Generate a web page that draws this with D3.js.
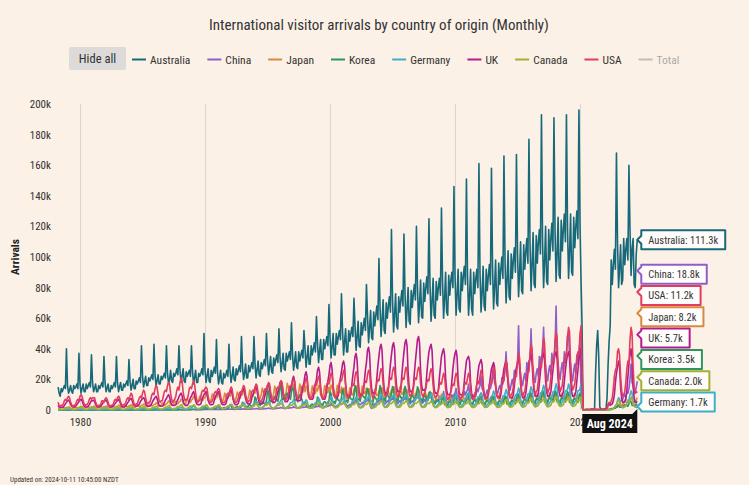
<!DOCTYPE html>
<html><head><meta charset="utf-8">
<script src="https://cdn.jsdelivr.net/npm/d3@7"></script>
<style>
body{margin:0;background:#fcf1e6;}
svg{display:block;}
</style></head><body><svg id="c" width="749" height="485"></svg>
<script>
// ---------- DATA (thousands of arrivals, monthly, from Apr 1978 to Aug 2024; one row per year) ----------
const startYear = 1978, startMonthIndex = 3; // April 1978
const seriesNames = ["Australia","China","Japan","Korea","Germany","UK","Canada","USA"];
const legendNames = ["Australia","China","Japan","Korea","Germany","UK","Canada","USA","Total"];
const yTicks = [0,20,40,60,80,100,120,140,160,180,200];
const xTickYears = [1980,1990,2000,2010,2020];
const title = "International visitor arrivals by country of origin (Monthly)";
const footnote = "Updated on: 2024-10-11 10:45:00 NZDT";

const australia = [
[15,11,9,14,12,14,16,14,40],
[16,11,13,16,12,11,16,14,15,17,14,37],
[17,11,14,17,12,12,17,14,16,18,15,36],
[18,12,14,17,12,12,16,14,16,18,15,35],
[18,12,14,17,12,12,16,14,16,18,15,35],
[18,12,15,18,13,13,17,15,17,19,16,33],
[19,13,16,20,14,14,19,17,19,21,18,42],
[22,15,18,22,16,16,21,19,21,23,20,43],
[23,16,19,23,17,17,22,20,22,24,21,42],
[24,17,20,26,19,18,24,22,24,27,23,42],
[26,18,22,27,19,18,25,22,24,26,22,42],
[25,17,21,26,18,18,24,22,24,27,23,50],
[26,18,22,27,19,18,26,22,25,28,24,46],
[25,17,21,26,18,17,24,21,23,26,22,43],
[26,18,22,28,20,19,27,23,26,29,25,48],
[28,20,24,30,21,21,29,25,28,31,27,48],
[30,21,26,32,23,22,31,27,30,33,29,50],
[33,23,28,35,25,24,34,29,33,36,31,53],
[35,25,30,37,27,26,37,32,35,38,33,57],
[36,26,31,38,28,27,38,32,36,39,34,52],
[40,28,34,42,30,30,42,36,40,44,38,61],
[44,31,38,46,33,33,46,40,44,48,42,69],
[48,34,41,50,36,36,50,43,48,52,46,76],
[52,36,44,53,38,38,52,45,50,54,48,73],
[55,39,47,58,42,41,57,49,55,60,52,82],
[62,44,53,65,47,46,64,55,62,68,59,99],
[68,48,58,72,52,50,70,60,68,74,64,118],
[72,51,62,76,55,53,74,64,72,78,68,115],
[76,54,65,80,58,56,78,67,76,82,72,120],
[80,57,69,85,61,60,83,71,80,87,76,125],
[82,58,70,86,62,60,84,72,80,86,75,132],
[85,60,72,90,64,62,88,75,85,90,80,146],
[88,62,74,92,66,64,90,78,88,94,82,151],
[88,62,74,92,66,62,90,76,86,92,80,161],
[90,64,76,94,68,65,92,78,88,95,82,158],
[94,66,80,98,70,68,96,82,92,100,86,166],
[98,70,84,104,74,72,102,86,98,106,90,167],
[104,74,88,110,78,76,108,92,104,112,96,177],
[110,78,94,116,82,80,114,96,110,118,102,193],
[112,80,96,120,84,82,118,98,112,122,104,191],
[118,84,100,126,88,86,124,104,118,128,110,193],
[120,86,102,128,90,88,126,106,120,130,112,196],
[122,84,55,0.4,0.3,0.3,0.5,0.5,0.3,0.4,0.5,0.6],
[0.6,0.5,0.6,25,42,52,35,2,0.5,0.5,0.5,0.6],
[0.8,1,8,30,45,55,98,82,95,105,92,168],
[110,80,92,108,82,85,112,95,105,112,98,160],
[118,88,105,112,82,80,102,111.3]
];

const china = [
[0.1,0.1,0.1,0.1,0.1,0.1,0.1,0.1,0.1],
[0.1,0.1,0.1,0.1,0.1,0.1,0.1,0.1,0.1,0.1,0.1,0.1],
[0.1,0.1,0.1,0.1,0.1,0.1,0.1,0.1,0.1,0.1,0.1,0.1],
[0.1,0.1,0.1,0.1,0.1,0.1,0.1,0.1,0.1,0.1,0.1,0.1],
[0.1,0.1,0.1,0.1,0.1,0.1,0.1,0.1,0.1,0.1,0.1,0.1],
[0.1,0.1,0.1,0.1,0.1,0.1,0.1,0.1,0.1,0.1,0.1,0.1],
[0.1,0.2,0.1,0.1,0.1,0.1,0.1,0.1,0.1,0.2,0.1,0.1],
[0.1,0.2,0.1,0.1,0.1,0.1,0.1,0.1,0.1,0.2,0.1,0.1],
[0.2,0.2,0.2,0.2,0.1,0.1,0.2,0.2,0.1,0.2,0.2,0.2],
[0.2,0.3,0.2,0.2,0.2,0.2,0.2,0.2,0.2,0.3,0.2,0.2],
[0.2,0.3,0.2,0.2,0.2,0.2,0.2,0.2,0.2,0.3,0.2,0.3],
[0.3,0.3,0.3,0.2,0.2,0.2,0.2,0.3,0.2,0.3,0.3,0.3],
[0.4,0.5,0.4,0.4,0.3,0.3,0.4,0.4,0.4,0.5,0.4,0.4],
[0.4,0.5,0.4,0.4,0.4,0.3,0.4,0.4,0.4,0.5,0.5,0.5],
[0.5,0.6,0.5,0.5,0.4,0.4,0.5,0.5,0.5,0.6,0.5,0.6],
[0.6,0.8,0.6,0.6,0.5,0.5,0.6,0.6,0.6,0.8,0.7,0.7],
[0.8,1,0.8,0.8,0.6,0.6,0.7,0.8,0.7,1,0.9,0.9],
[1,1.3,1,1,0.8,0.7,0.9,1,0.9,1.3,1.1,1.2],
[1.3,1.7,1.3,1.3,1,0.9,1.1,1.3,1.1,1.6,1.4,1.5],
[1.6,2.2,1.6,1.6,1.2,1.1,1.4,1.6,1.4,2,1.7,1.8],
[1.8,2.4,1.8,1.8,1.3,1.2,1.5,1.7,1.5,2.2,1.9,2.2],
[2.3,3,2.2,2.2,1.7,1.5,1.9,2.2,1.9,2.8,2.4,2.8],
[3,4.5,3,3,2.5,2,2.5,3,2.5,4,3.5,4],
[4,5.5,4,4,3,2.5,3,3.5,3,5,4,5],
[5,7,5,5,4,3.5,4,5,4,6,5,6],
[6,8,5,2,1,1.5,3,4,3.5,6,5,6],
[6,9,6,6,4.5,4,5,6,5,8,6,7],
[7,9,6,6,4.5,4,5,6,5,8,6,7],
[7,10,6,6,5,4,5,6,5,8,7,8],
[8,10,7,7,5,4.5,5.5,7,5.5,9,7,8],
[8,11,7,7,5,4.5,5.5,7,5.5,9,7,9],
[9,12,8,8,5.5,5,6,8,6,10,8,10],
[11,14,10,9,7,6,8,10,8,12,10,12],
[13,17,11,10,8,7,9,11,9,14,12,14],
[16,22,14,13,10,9,11,13,11,17,14,17],
[20,30,18,16,12,11,14,16,13,21,17,21],
[26,38,22,20,15,13,17,20,16,26,21,27],
[30,55,28,24,18,16,21,24,19,31,26,32],
[33,53,31,27,20,18,24,27,22,35,29,35],
[36,54,33,29,22,19,26,29,23,37,30,36],
[40,68,36,31,23,20,27,31,24,38,31,38],
[48,50,35,30,22,19,26,30,23,36,30,38],
[45,10,2,0.1,0.1,0.1,0.1,0.1,0.1,0.1,0.1,0.1],
[0.1,0.1,0.1,0.1,0.1,0.1,0.1,0.1,0.1,0.1,0.1,0.1],
[0.1,0.1,0.2,0.4,0.5,0.6,0.8,1,1,1.5,1.5,2],
[2,3,4,6,6,7,9,10,8,12,11,14],
[20,30,18,16,12,11,15,18.8]
];

const japan = [
[1.2,1,1,1.4,1.9,1.6,1.3,1.3,1.7],
[1.5,2,2,1.2,1.1,1.1,1.4,2,1.7,1.4,1.4,1.8],
[1.8,2.3,2.3,1.4,1.3,1.3,1.6,2.3,2,1.6,1.6,2.2],
[1.9,2.5,2.5,1.5,1.4,1.4,1.7,2.5,2.1,1.7,1.7,2.3],
[2,2.6,2.6,1.6,1.4,1.4,1.8,2.6,2.2,1.8,1.8,2.4],
[2.3,3,3,1.8,1.6,1.6,2,3,2.5,2,2,2.8],
[2.6,3.4,3.4,2,1.8,1.8,2.3,3.4,2.9,2.3,2.3,3.1],
[3,3.9,3.9,2.4,2.1,2.1,2.7,3.9,3.3,2.7,2.7,3.6],
[3.6,4.7,4.7,2.9,2.5,2.5,3.2,4.7,4,3.2,3.2,4.3],
[4.5,5.9,5.9,3.6,3.2,3.2,4,5.9,5,4,4,5.4],
[5.5,7.2,7.2,4.4,3.9,3.9,5,7.2,6,5,5,6.6],
[7,9,9,5.6,4.9,4.9,6.3,9,7.7,6.3,6.3,8.4],
[8,10.4,10.4,6.4,5.6,5.6,7.2,10.4,8.8,7.2,7.2,9.6],
[8.5,11,11,6.8,6,6,7.6,11,9.4,7.6,7.6,10.2],
[9,11.7,11.7,7.2,6.3,6.3,8.1,11.7,9.9,8.1,8.1,10.8],
[10,13,13,8,7,7,9,13,11,9,9,12],
[11,14.3,14.3,8.8,7.7,7.7,9.9,14.3,12.1,9.9,9.9,13.2],
[12,15.6,15.6,9.6,8.4,8.4,10.8,15.6,13.2,10.8,10.8,14.4],
[13.5,17.5,17.5,10.8,9.5,9.5,12,17.5,14.8,12,12,16],
[13,17,17,10.4,9.1,9.1,11.7,17,14.3,11.7,11.7,15.6],
[12,15.6,15.6,9.6,8.4,8.4,10.8,15.6,13.2,10.8,10.8,14.4],
[12.5,16,16,10,8.8,8.8,11.3,16,13.8,11.3,11.3,15],
[12.5,16.2,15.8,10,8.7,8.9,11.2,16.1,13.7,11.4,11.2,15],
[11,14.3,14.3,8.8,7.7,7.7,9.9,14.3,12.1,9.9,9.9,13.2],
[12,15.6,15.6,9.6,8.4,8.4,10.8,15.6,13.2,10.8,10.8,14.4],
[10.5,13.7,13.7,6,5.5,6.5,9.5,13.7,11.5,9.5,9.5,12.6],
[11,14.3,14.3,8.8,7.7,7.7,9.9,14.3,12.1,9.9,9.9,13.2],
[11.5,15,15,9.2,8,8,10.4,15,12.7,10.4,10.4,13.8],
[10,13,13,8,7,7,9,13,11,9,9,12],
[9.5,12.4,12.4,7.6,6.7,6.7,8.6,12.4,10.5,8.6,8.6,11.4],
[8.5,11,11,6.8,6,6,7.6,11,9.4,7.6,7.6,10.2],
[7,9,9,5.6,4.9,4.9,6.3,9,7.7,6.3,6.3,8.4],
[7.5,9.8,9.8,6,5.3,5.3,6.8,9.8,8.3,6.8,6.8,9],
[6.5,8.5,7,4.5,4,4,5.9,8.5,7.2,5.9,5.9,7.8],
[6.5,8.5,8.5,5.2,4.6,4.6,5.9,8.5,7.2,5.9,5.9,7.8],
[6.4,8.4,8.6,5.1,4.6,4.7,5.8,8.6,7.1,6,5.8,7.9],
[6.6,8.6,8.4,5.3,4.5,4.6,6,8.4,7.3,5.9,6,7.7],
[7,9.1,9.1,5.6,4.9,4.9,6.3,9.1,7.7,6.3,6.3,8.4],
[8,10.4,10.4,6.4,5.6,5.6,7.2,10.4,8.8,7.2,7.2,9.6],
[8.5,11,11,6.8,6,6,7.6,11,9.4,7.6,7.6,10.2],
[8.6,11.2,10.9,6.9,6,6.1,7.5,11.1,9.3,7.7,7.5,10.3],
[8.4,10.9,11.1,6.7,5.9,6,7.7,10.9,9.5,7.5,7.7,10.1],
[9,10,4,0.1,0.1,0.1,0.1,0.1,0.1,0.1,0.1,0.1],
[0.1,0.1,0.1,0.1,0.1,0.1,0.1,0.1,0.1,0.1,0.1,0.1],
[0.1,0.1,0.1,0.2,0.3,0.4,0.6,0.8,1,1.5,1.8,2.2],
[2.5,3.5,4,3,3,3.5,4.5,6.5,5.5,4.5,4.5,6],
[6,8,8.5,5.5,5,5,6.5,8.2]
];

const korea = [
[0.1,0.1,0.1,0.1,0.1,0.1,0.1,0.1,0.1],
[0.1,0.1,0.1,0.1,0.1,0.1,0.1,0.1,0.1,0.1,0.1,0.1],
[0.1,0.1,0.1,0.1,0.1,0.1,0.1,0.1,0.1,0.1,0.1,0.1],
[0.1,0.1,0.1,0.1,0.1,0.1,0.1,0.1,0.1,0.1,0.1,0.1],
[0.1,0.1,0.1,0.1,0.1,0.1,0.1,0.1,0.1,0.1,0.1,0.1],
[0.1,0.1,0.1,0.1,0.1,0.1,0.1,0.1,0.1,0.1,0.1,0.1],
[0.1,0.1,0.1,0.1,0.1,0.1,0.1,0.1,0.1,0.1,0.1,0.1],
[0.1,0.1,0.1,0.1,0.1,0.1,0.1,0.1,0.1,0.1,0.1,0.1],
[0.2,0.2,0.1,0.1,0.1,0.1,0.2,0.2,0.1,0.1,0.1,0.2],
[0.2,0.2,0.1,0.1,0.1,0.1,0.2,0.2,0.1,0.1,0.1,0.2],
[0.3,0.3,0.2,0.2,0.2,0.1,0.2,0.3,0.2,0.2,0.2,0.3],
[0.5,0.5,0.3,0.3,0.3,0.3,0.4,0.5,0.4,0.4,0.4,0.6],
[1.7,1.5,0.7,0.7,0.8,0.6,1,1.1,0.9,0.9,0.7,1.2],
[2.5,2.2,1,1,1.2,0.9,1.5,1.6,1.3,1.3,1,1.8],
[3.4,3,1.4,1.4,1.6,1.2,2,2.2,1.8,1.8,1.4,2.4],
[5,4.5,2.1,2.1,2.4,1.8,3,3.3,2.7,2.7,2.1,3.6],
[8.5,7.5,3.5,3.5,4,3,5,5.5,4.5,4.5,3.5,6],
[13,12,5.6,5.6,6.4,4.8,8,8.8,7.2,7.2,5.6,9.6],
[17,15,7,7,8,6,10,11,9,9,7,12],
[15,13.5,6.3,6.3,7.2,5.4,9,9.9,8.1,7,4,4],
[5,4.5,2.2,2.2,2.6,2,3.5,3.9,3.2,3.2,2.5,4.2],
[8.5,7.5,3.5,3.5,4,3,5,5.5,4.5,4.5,3.5,6],
[12,10.5,5,5,5.6,4.2,7,7.7,6.3,6.3,4.9,8.4],
[13.6,12,5.6,5.6,6.4,4.8,8,8.8,7.2,7.2,5.6,9.6],
[16,14,6.7,6.7,7.6,5.7,9.5,10.5,8.6,8.6,6.7,11.4],
[14,12,5.6,3,3.5,3.5,8,8.8,7.2,7.2,5.6,9.6],
[16,14,6.7,6.7,7.6,5.7,9.5,10.5,8.6,8.6,6.7,11.4],
[15.3,13.5,6.3,6.3,7.2,5.4,9,9.9,8.1,8.1,6.3,10.8],
[15.5,13.2,6.4,6.2,7.3,5.3,9.2,9.8,8.2,8,6.4,10.7],
[15.1,13.6,6.2,6.4,7.1,5.5,8.9,10,8,8.2,6.2,10.9],
[12,10.5,5,5,5.2,4,6,6.5,5.5,5,3.5,5.5],
[8.5,7.5,3.5,3.5,4,3,5,5.5,4.5,4.5,3.5,6],
[10,9,4.2,4.2,4.8,3.6,6,6.6,5.4,5.4,4.2,7.2],
[10.5,9,4,4.2,4.6,3.5,6.2,6.8,5.5,5.2,4,7],
[10,8.8,4.1,4,4.6,3.5,5.8,6.4,5.2,5.2,4,6.8],
[9.4,8.3,3.9,3.9,4.4,3.3,5.5,6,5,5,3.9,6.6],
[9.2,8.4,3.8,4,4.5,3.4,5.7,6.2,5.1,5.2,4,6.9],
[11,9.8,4.6,4.6,5.2,3.9,6.5,7.2,5.9,5.9,4.6,7.8],
[12,10.5,4.9,4.9,5.6,4.2,7,7.7,6.3,6.3,4.9,8.4],
[12.8,11.3,5.3,5.3,6,4.5,7.5,8.3,6.8,6.8,5.3,9],
[12.6,11.5,5.2,5.4,5.9,4.6,7.4,8.4,6.7,6.9,5.2,9.1],
[12,10.5,4.9,4.9,5.6,4.2,7,7.7,6.3,6.3,4.9,8.4],
[11,7,1.5,0.1,0.1,0.1,0.1,0.1,0.1,0.1,0.1,0.1],
[0.1,0.1,0.1,0.1,0.1,0.1,0.1,0.1,0.1,0.1,0.1,0.1],
[0.1,0.1,0.1,0.2,0.3,0.4,0.6,0.8,1,1.2,1.2,1.8],
[3,3,1.8,1.8,2.2,1.8,3,3.5,3,3,2.4,4],
[6,5.5,3,3,3.2,2.5,3.8,3.5]
];

const germany = [
[0.3,0.2,0.1,0.1,0.2,0.2,0.3,0.4,0.4],
[0.5,0.6,0.5,0.3,0.2,0.1,0.1,0.2,0.2,0.3,0.4,0.4],
[0.6,0.8,0.7,0.4,0.2,0.1,0.2,0.2,0.3,0.4,0.6,0.6],
[0.6,0.7,0.7,0.4,0.2,0.1,0.2,0.2,0.3,0.4,0.5,0.6],
[0.6,0.8,0.7,0.4,0.2,0.2,0.2,0.2,0.3,0.4,0.6,0.6],
[0.8,1,0.9,0.5,0.3,0.2,0.2,0.3,0.4,0.5,0.7,0.7],
[0.8,1,0.9,0.5,0.3,0.2,0.2,0.3,0.4,0.5,0.7,0.8],
[0.9,1.1,1,0.5,0.3,0.2,0.2,0.4,0.4,0.6,0.8,0.8],
[0.9,1.2,1,0.6,0.3,0.2,0.3,0.4,0.4,0.6,0.8,0.9],
[1.2,1.5,1.4,0.7,0.4,0.3,0.3,0.5,0.6,0.8,1.1,1.1],
[1.5,1.9,1.7,0.9,0.5,0.4,0.4,0.6,0.7,1,1.4,1.4],
[2,2.5,2.2,1.2,0.7,0.5,0.5,0.8,0.9,1.3,1.8,1.8],
[2.4,3,2.7,1.4,0.8,0.6,0.6,1,1.1,1.6,2.2,2.2],
[2.4,3.1,2.6,1.4,0.8,0.6,0.7,1,1.1,1.6,2.3,2.2],
[3,3.8,3.4,1.8,1,0.7,0.8,1.2,1.4,2,2.8,2.8],
[3.8,4.8,4.3,2.3,1.3,0.9,1,1.5,1.8,2.5,3.5,3.5],
[4.5,5.7,5.1,2.7,1.5,1.1,1.2,1.8,2.1,3,4.2,4.2],
[4.6,5.6,5.2,2.7,1.5,1.1,1.2,1.8,2.1,3.1,4.2,4.3],
[5.3,6.7,6,3.2,1.8,1.2,1.4,2.1,2.5,3.5,4.9,4.9],
[5.2,6.8,5.9,3.2,1.8,1.3,1.4,2.1,2.4,3.5,5,4.9],
[5.3,6.6,6,3.1,1.8,1.2,1.4,2.2,2.5,3.4,4.8,4.9],
[6,7.6,6.8,3.6,2,1.4,1.6,2.4,2.8,4,5.6,5.6],
[6.8,8.6,7.7,4,2.3,1.6,1.8,2.7,3.2,4.5,6.3,6.3],
[6.7,8.7,7.6,4.1,2.3,1.6,1.8,2.7,3.1,4.6,6.3,6.2],
[6.8,8.5,7.8,4,2.2,1.6,1.8,2.8,3.2,4.5,6.2,6.4],
[7.5,9.5,8.5,4.5,2.5,1.8,2,3,3.5,5,7,7],
[8.3,10.5,9.4,5,2.8,1.9,2.2,3.3,3.9,5.5,7.7,7.7],
[8.2,10.6,9.3,5,2.8,2,2.2,3.3,3.8,5.6,7.7,7.6],
[8.4,10.4,9.5,4.9,2.7,1.9,2.1,3.4,3.9,5.4,7.8,7.7],
[8.3,10.5,9.4,5,2.8,1.9,2.2,3.3,3.9,5.5,7.7,7.7],
[8.2,10.7,9.3,5.1,2.8,2,2.2,3.2,3.8,5.5,7.6,7.8],
[8.3,10.4,9.4,5,2.7,1.9,2.2,3.3,3.9,5.5,7.7,7.6],
[8.3,10.5,9.5,5,2.8,1.9,2.2,3.3,3.9,5.5,7.7,7.7],
[9,11.4,10.2,5.4,3,2.1,2.4,3.6,4.2,6,8.4,8.4],
[9.1,11.3,10.3,5.4,3,2.1,2.4,3.6,4.2,6.1,8.4,8.5],
[9.8,12.4,11,5.9,3.3,2.3,2.6,3.9,4.6,6.5,9.1,9.1],
[10.5,13.3,11.9,6.3,3.5,2.5,2.8,4.2,4.9,7,9.8,9.8],
[11.3,14.3,12.8,6.8,3.8,2.6,3,4.5,5.3,7.5,10.5,10.5],
[12,15.2,13.6,7.2,4,2.8,3.2,4.8,5.6,8,11.2,11.2],
[12.8,16.2,14.5,7.7,4.3,3,3.4,5.1,6,8.5,11.9,11.9],
[13.5,17.1,15.3,8.1,4.5,3.2,3.6,5.4,6.3,9,12.6,12.6],
[13.4,17,15.4,8.1,4.5,3.2,3.6,5.4,6.3,9,12.5,12.7],
[14,17,7,0.1,0.1,0.1,0.1,0.1,0.1,0.1,0.1,0.1],
[0.1,0.1,0.1,0.1,0.1,0.1,0.1,0.1,0.1,0.1,0.1,0.1],
[0.1,0.1,0.1,0.1,0.2,0.2,0.3,0.5,0.8,1.5,3,3.5],
[6,8,7.5,4,2,1.4,1.6,2.4,2.8,4.5,6.5,6.5],
[10,12.5,11,5.5,3,2,1.8,1.7]
];

const uk = [
[3,2,1.8,1.8,1.8,2,3,4,5],
[6,6.5,5.5,3.5,2.5,2,2,2,2.5,3.5,4.5,5.5],
[6.5,7,6,4,2.5,2,2,2,2.5,3.5,5,6],
[6,6.5,5.5,3.5,2.5,2,2,2,2.5,3.5,4.5,5.5],
[6,6.5,5.5,3.5,2.5,2,2,2,2.5,3.5,4.5,5.5],
[6,7,6,4,2.5,2,2,2,2.5,4,5,6],
[7,7.5,6.5,4,3,2.5,2.5,2.5,3,4,5.5,6.5],
[7.5,8,7,4.5,3,2.5,2.5,2.5,3,4.5,6,7],
[8,9,7.5,5,3,2.5,2.5,2.5,3,5,6.5,7.5],
[9,10,8.5,5.5,3.5,3,3,3,3.5,5.5,7,8.5],
[10,11,9.5,6,4,3,3,3,4,6,8,9],
[11,12,10,6.5,4,3.5,3.5,3.5,4,6.5,8.5,10],
[11,12,10.5,6.5,4.5,3.5,3.5,3.5,4,6.5,9,10],
[11,12,10,6.5,4,3.5,3.5,3.5,4,6.5,8.5,10],
[12,13,11,7,4.5,3.5,3.5,3.5,4.5,7,9.5,11],
[13,14,12,7.5,5,4,4,4,5,8,10,12],
[14,15,13,8,5,4,4,4,5,8,11,13],
[16,17,15,9,6,5,5,5,6,9,12,14],
[18,19,17,10,7,5.5,5.5,5.5,7,10,14,16],
[20,22,19,11,7,6,6,6,7,11,15,18],
[23,25,22,13,8,7,7,7,8,13,17,20],
[26,28,25,15,9,7,7,7,9,14,19,23],
[29,31,27,16,10,8,8,8,10,16,21,25],
[30,32,29,17,11,9,9,9,11,17,23,28],
[35,37,33,20,12,10,10,10,12,19,26,31],
[39,41,37,22,14,11,11,11,13,21,29,35],
[41,43,39,23,14,11,11,11,14,22,30,36],
[42,44,40,24,15,12,12,12,14,23,31,38],
[44,46,42,25,15,12,12,12,15,24,32,39],
[46,48,44,26,16,13,13,13,15,24,32,38],
[41,43,39,23,14,11,11,11,13,21,28,35],
[38,40,36,21,13,10,10,10,12,19,27,33],
[37,39,35,20,12,10,10,10,12,19,26,32],
[34,35,32,18,11,9,9,9,11,17,24,29],
[31,33,30,17,10,8,8,8,10,16,22,27],
[29,31,28,16,10,8,8,8,10,16,22,27],
[30,32,29,17,10,8,8,8,10,16,23,28],
[31,33,30,17,11,8,8,9,11,17,24,29],
[34,36,32,19,12,9,9,9,11,18,25,31],
[35,37,33,19,12,9,9,10,12,19,26,32],
[36,38,34,20,12,9,9,10,12,19,26,32],
[36,38,34,20,12,9,9,10,12,19,26,33],
[38,40,20,0.2,0.2,0.2,0.2,0.2,0.2,0.2,0.2,0.3],
[0.3,0.3,0.3,0.3,0.3,0.3,0.3,0.3,0.3,0.3,0.3,0.3],
[0.3,0.4,0.8,3,4,3,3.5,4,6,10,18,24],
[28,32,29,15,8,5,5,5.5,7,13,22,30],
[36,40,34,16,8,5,5,5.7]
];

const canada = [
[0.7,0.5,0.4,0.4,0.4,0.6,0.9,1,1],
[1.1,1.4,1.3,0.7,0.5,0.4,0.4,0.4,0.6,0.9,1,1],
[1.4,1.7,1.6,0.9,0.6,0.5,0.5,0.6,0.7,1.1,1.3,1.2],
[1.4,1.6,1.6,0.9,0.6,0.5,0.5,0.6,0.7,1.1,1.3,1.2],
[1.3,1.7,1.5,0.9,0.6,0.5,0.5,0.6,0.7,1,1.3,1.2],
[1.4,1.7,1.6,0.9,0.6,0.5,0.5,0.6,0.7,1.1,1.3,1.3],
[1.7,2,1.9,1.1,0.7,0.5,0.6,0.7,0.8,1.3,1.6,1.4],
[1.7,2.1,1.9,1.1,0.7,0.6,0.6,0.7,0.8,1.3,1.6,1.5],
[2,2.4,2.2,1.3,0.8,0.6,0.7,0.8,1,1.5,1.8,1.7],
[2.4,2.9,2.7,1.5,1,0.8,0.9,0.9,1.2,1.9,2.2,2],
[2.8,3.4,3.2,1.8,1.2,0.9,1,1.1,1.4,2.2,2.6,2.4],
[2.8,3.3,3.2,1.8,1.2,0.9,1,1.1,1.4,2.2,2.6,2.4],
[2.8,3.4,3.1,1.8,1.2,0.9,1,1.1,1.4,2.2,2.5,2.4],
[2.7,3.4,3.2,1.8,1.2,0.9,1,1.1,1.4,2.1,2.6,2.4],
[2.8,3.4,3.2,1.8,1.1,0.9,1,1.1,1.4,2.2,2.6,2.5],
[2.9,3.5,3.3,1.8,1.2,0.9,1,1.2,1.4,2.3,2.7,2.5],
[3.5,4.3,4,2.3,1.5,1.1,1.3,1.4,1.8,2.8,3.3,3],
[3.5,4.2,4,2.2,1.5,1.1,1.3,1.4,1.8,2.8,3.3,3],
[3.6,4.3,4.1,2.3,1.5,1.2,1.3,1.4,1.8,2.8,3.3,3.1],
[3.5,4.4,4,2.3,1.5,1.1,1.3,1.4,1.8,2.8,3.2,3],
[3.4,4.2,3.9,2.2,1.5,1.1,1.2,1.4,1.7,2.7,3.2,3],
[4.2,5.1,4.8,2.7,1.8,1.4,1.5,1.7,2.1,3.3,3.9,3.6],
[4.2,5.2,4.8,2.7,1.8,1.4,1.5,1.7,2.1,3.3,3.9,3.6],
[4.1,5,4.7,2.7,1.8,1.3,1.5,1.7,2.1,3.2,3.8,3.5],
[4.2,5.1,4.8,2.7,1.8,1.4,1.5,1.7,2.1,3.3,3.9,3.6],
[4.1,5.1,4.7,2.5,1.6,1.3,1.5,1.7,2.1,3.3,3.9,3.6],
[4.9,6,5.6,3.2,2.1,1.6,1.8,1.9,2.5,3.9,4.6,4.2],
[4.9,6,5.6,3.2,2.1,1.6,1.8,1.9,2.5,3.9,4.6,4.2],
[5,6.1,5.7,3.2,2.1,1.6,1.8,2,2.5,3.9,4.6,4.3],
[4.9,5.9,5.6,3.1,2.1,1.6,1.8,1.9,2.4,3.8,4.5,4.2],
[4.8,5.8,5.4,3.1,2,1.5,1.7,1.9,2.4,3.7,4.4,4],
[4.6,5.6,5.3,3,2,1.5,1.7,1.8,2.3,3.6,4.3,4],
[4.8,5.9,5.5,3.1,2.1,1.6,1.7,1.9,2.4,3.8,4.5,4.1],
[4.8,5.8,5.5,3.1,2,1.6,1.7,1.9,2.4,3.8,4.5,4.1],
[4.9,6,5.6,3.2,2.1,1.6,1.8,1.9,2.5,3.9,4.6,4.2],
[4.9,6,5.6,3.2,2.1,1.6,1.8,1.9,2.5,3.9,4.6,4.2],
[5.6,6.8,6.4,3.6,2.4,1.8,2,2.2,2.8,4.4,5.2,4.8],
[5.6,6.9,6.4,3.6,2.4,1.8,2,2.2,2.8,4.4,5.2,4.8],
[6.3,7.7,7.2,4.1,2.7,2,2.3,2.5,3.2,5,5.9,5.4],
[6.3,7.6,7.2,4,2.7,2,2.3,2.5,3.2,5,5.9,5.4],
[7,8.5,8,4.5,3,2.3,2.5,2.8,3.5,5.5,6.5,6],
[7,8.5,8,4.5,3,2.3,2.5,2.8,3.5,5.5,6.5,6],
[7.5,8.5,3,0.1,0.1,0.1,0.1,0.1,0.1,0.1,0.1,0.1],
[0.1,0.1,0.1,0.1,0.1,0.1,0.1,0.1,0.1,0.1,0.1,0.1],
[0.1,0.1,0.1,0.1,0.2,0.2,0.3,0.4,0.7,1.5,2.5,3],
[5,6.5,6,3.4,2.3,1.7,1.9,2.1,2.7,4.2,5,4.6],
[6.3,7.7,7.2,4.1,2.7,2,2.1,2]
];

const usa = [
[5,3,2.5,3,3,4,6,7,6],
[8,9,8,5,3.5,2.5,3,3,4,6,7,6],
[9,10,9,6,4,3,3.5,3.5,5,7,8,7],
[8,8,8,5,3.5,2.5,3,3,4,6,6,5],
[7,8,7,5,3,2.5,3,3,4,6,7,6],
[8,9,8,5,3.5,3,3.5,3.5,5,7,8,7],
[9,11,10,6,4,3,4,4,6,8,9,8],
[11,13,12,8,5,4,5,5,7,10,11,10],
[14,16,15,10,6,5,6,6,9,12,13,12],
[16,18,17,11,7,5,6,7,9,13,15,13],
[18,21,19,12,8,6,7,7,10,14,15,14],
[17,19,17,11,7,5,6,6,9,12,13,12],
[14,15,14,9,6,5,5,6,8,11,12,11],
[13,14,13,9,6,4.5,5,5,7,10,11,10],
[13,15,14,9,6,5,5,6,8,11,12,11],
[14,16,15,10,7,5,6,6,9,12,13,12],
[15,17,16,11,7,5.5,6,7,9,13,14,13],
[16,18,17,12,8,6,7,7,10,14,15,14],
[17,19,18,12,8,6,7,8,11,15,16,15],
[18,20,19,13,9,7,8,8,11,15,16,15],
[18,21,20,13,9,7,8,9,12,16,17,16],
[19,22,21,14,9,7,8,9,12,17,18,17],
[21,24,23,15,10,8,9,10,13,18,20,19],
[22,26,24,16,10,8,9,10,13,16,17,16],
[22,25,24,16,10,8,9,10,13,17,19,18],
[23,26,25,16,11,8,9,10,14,18,20,19],
[24,27,26,17,11,9,10,11,14,19,21,20],
[25,28,27,17,11,9,10,11,14,19,21,20],
[25,28,26,17,11,9,10,11,14,19,21,20],
[25,28,27,17,11,9,10,11,14,18,20,19],
[24,27,25,16,10,8,9,10,13,16,18,17],
[21,24,22,14,9,7,8,9,12,15,17,16],
[21,24,23,15,9,7,8,9,12,16,18,17],
[21,24,22,14,9,7,8,9,13,17,19,17],
[22,26,24,15,9,7,8,9,12,16,18,17],
[24,28,26,16,10,8,9,10,13,18,20,19],
[28,32,30,18,11,8,10,11,15,20,23,22],
[32,37,34,21,12,9,11,12,17,23,26,25],
[37,43,40,24,14,10,12,13,19,27,30,28],
[41,47,44,26,15,11,13,15,21,30,33,31],
[45,51,48,28,16,12,14,16,23,33,36,34],
[48,54,51,30,17,13,15,17,24,34,38,36],
[50,55,28,0.3,0.2,0.2,0.3,0.3,0.3,0.3,0.3,0.4],
[0.4,0.3,0.3,0.4,0.4,0.4,0.4,0.3,0.3,0.3,0.3,0.4],
[0.4,0.5,1,4,5,4,6,8,14,22,26,28],
[38,40,36,22,13,9,10,12,18,27,32,30],
[46,54,50,28,15,11,12,11.2]
];

const seriesRows = [australia, china, japan, korea, germany, uk, canada, usa];
const seriesColors = ["#17697a","#8e5fc8","#d98a3e","#2f9560","#3db0c8","#b31b8e","#a1b032","#e23d5e"];
const totalLegendColor = "#c2bdb8";

// ---------- BUILD ----------
const seriesValues = seriesRows.map(r => r.flat());
const n = seriesValues[0].length;
seriesValues.forEach((v, i) => { if (v.length !== n) throw new Error(seriesNames[i] + " length " + v.length + " vs " + n); });
const months = d3.range(n).map(i => new Date(startYear, startMonthIndex + i, 1));

const FONT = '"Liberation Sans Narrow", "Roboto Condensed", Roboto, "Noto Sans", sans-serif';
const W = 749, H = 485;
const svg = d3.select("#c").style("font-family", FONT);
svg.append("rect").attr("width", W).attr("height", H).attr("fill", "#fcf1e6");

const x = d3.scaleTime().domain([new Date(1980,0,1), new Date(2020,0,1)]).range([80, 580]);
const y = d3.scaleLinear().domain([0, 200]).range([410, 104]);

// title
svg.append("text").attr("x", 379).attr("y", 30).attr("text-anchor", "middle")
  .attr("font-size", 15).attr("fill", "#333").text(title);

// legend
const lg = svg.append("g");
lg.append("rect").attr("x", 69).attr("y", 47).attr("width", 57).attr("height", 23).attr("rx", 2).attr("fill", "#dcdbda");
lg.append("text").attr("x", 97.5).attr("y", 63).attr("text-anchor", "middle").attr("font-size", 12.5).attr("fill", "#333").text("Hide all");
let lx = 132;
legendNames.forEach((name, i) => {
  const col = i < seriesColors.length ? seriesColors[i] : totalLegendColor;
  lg.append("line").attr("x1", lx).attr("x2", lx + 14).attr("y1", 59.5).attr("y2", 59.5)
    .attr("stroke", col).attr("stroke-width", 2);
  const t = lg.append("text").attr("x", lx + 18).attr("y", 63.5).attr("font-size", 11.5)
    .attr("fill", i < seriesColors.length ? "#333" : "#aaa").text(name);
  lx += 18 + t.node().getComputedTextLength() + 17;
});

// grid (vertical decades)
const gridG = svg.append("g").attr("transform", "translate(0,410)")
  .call(d3.axisBottom(x).tickValues(xTickYears.map(v => new Date(v,0,1))).tickSize(-306).tickFormat(""));
gridG.select(".domain").remove();
gridG.selectAll(".tick line").attr("stroke", "#dcd5cd").attr("stroke-width", 1);

// x axis labels
const xa = svg.append("g").attr("transform", "translate(0,410)")
  .call(d3.axisBottom(x).tickValues(xTickYears.map(v => new Date(v,0,1))).tickSize(0).tickPadding(8).tickFormat(d3.timeFormat("%Y")));
xa.select(".domain").remove();
xa.selectAll("text").attr("font-size", 11).attr("fill", "#333").style("font-family", FONT);

// y axis labels
const ya = svg.append("g").attr("transform", "translate(51,0)")
  .call(d3.axisLeft(y).tickValues(yTicks).tickSize(0).tickPadding(0).tickFormat(d => d === 0 ? "0" : d + "k"));
ya.select(".domain").remove();
ya.selectAll("text").attr("font-size", 11).attr("fill", "#333").style("font-family", FONT);

svg.append("text").attr("transform", "translate(19,257) rotate(-90)").attr("text-anchor", "middle")
  .attr("font-size", 11.5).attr("font-weight", "bold").attr("fill", "#222").text("Arrivals");

// lines
const line = d3.line().x((d, i) => x(months[i])).y(d => y(d));
seriesValues.forEach((vals, i) => {
  svg.append("path").attr("d", line(vals)).attr("fill", "none")
    .attr("stroke", seriesColors[i]).attr("stroke-width", 1.6).attr("stroke-linejoin", "round");
});

// end labels
const lastDate = months[n - 1];
const lastX = x(lastDate);
const fmtK = v => v.toFixed(1) + "k";
const labels = seriesNames.map((name, i) => ({ name, color: seriesColors[i], v: seriesValues[i][n - 1], want: y(seriesValues[i][n - 1]) }));
labels.sort((a, b) => a.v - b.v);
const boxH = 19, gap = 21.3, maxCy = 402;
let prev = Infinity;
labels.forEach(l => { l.cy = Math.min(l.want, maxCy, prev - gap); prev = l.cy; });
const lblG = svg.append("g");
labels.forEach(l => {
  const bx = lastX + 4;
  const top = l.cy - boxH / 2, bot = l.cy + boxH / 2;
  const t = lblG.append("text").attr("x", bx + 7).attr("y", l.cy + 3.8).attr("font-size", 10.5).attr("fill", "#333")
    .text(l.name + ": " + fmtK(l.v));
  const bw = t.node().getComputedTextLength() + 14;
  let py = (l.want >= top + 5 && l.want <= bot + 6) ? Math.min(Math.max(l.want, top + 5), bot - 5) : top + 6;
  const p = `M${bx},${top} H${bx + bw} V${bot} H${bx} V${py + 4} L${bx - 4},${py} L${bx},${py - 4} Z`;
  lblG.insert("path", "text").attr("d", p).attr("fill", "#fffdfb").attr("stroke", l.color)
    .attr("stroke-width", 2).attr("stroke-linejoin", "round");
});

// date tooltip
const dg = svg.append("g");
dg.append("path").attr("d", `M${lastX - 55},414 H${lastX - 5} L${lastX},409 V433 H${lastX - 55} Z`).attr("fill", "#111");
dg.append("text").attr("x", lastX - 27.5).attr("y", 428).attr("text-anchor", "middle").attr("font-size", 12)
  .attr("font-weight", "bold").attr("fill", "#fff").text(d3.timeFormat("%b %Y")(lastDate));

// footnote
svg.append("text").attr("x", 10).attr("y", 482).attr("font-size", 7).attr("fill", "#333").text(footnote);
</script>
</body></html>
